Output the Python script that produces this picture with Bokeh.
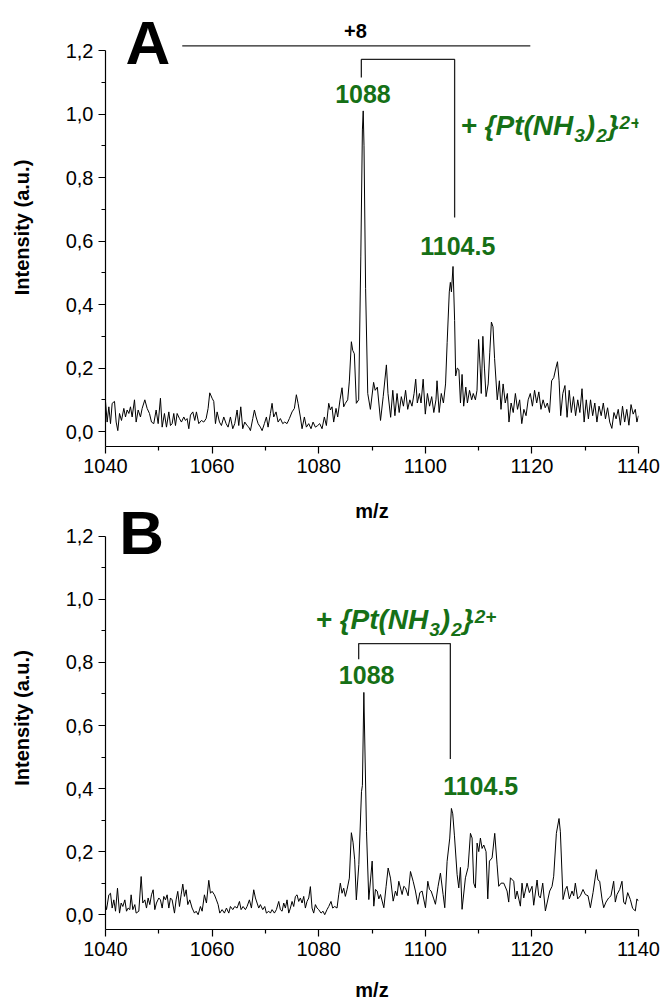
from bokeh.plotting import figure
from bokeh.layouts import column
from bokeh.models import Range1d, FixedTicker, CustomJSTickFormatter, Label
from bokeh.embed import file_html
from bokeh.resources import INLINE

# ---------------- data: panel A ----------------
mz_a = [1040.0, 1040.31, 1040.63, 1040.94, 1041.25, 1041.69, 1042.0, 1042.31, 1042.63, 1043.0,
        1043.44, 1043.75, 1044.06, 1044.38, 1044.69, 1045.0, 1045.44, 1045.75, 1046.13, 1046.56,
        1046.88, 1047.38, 1047.81, 1048.25, 1048.63, 1049.06, 1049.5, 1049.88, 1050.31, 1050.63,
        1051.06, 1051.44, 1051.88, 1052.19, 1052.5, 1052.81, 1053.13, 1053.44, 1053.88, 1054.25,
        1054.69, 1055.0, 1055.31, 1055.63, 1055.94, 1056.38, 1056.75, 1057.06, 1057.5, 1058.0,
        1058.44, 1058.88, 1059.25, 1059.56, 1060.0, 1060.31, 1060.63, 1060.94, 1061.38, 1061.75,
        1062.19, 1062.63, 1063.0, 1063.44, 1063.88, 1064.25, 1064.69, 1065.0, 1065.38, 1065.75,
        1066.13, 1066.56, 1066.88, 1067.19, 1067.63, 1067.94, 1068.25, 1068.63, 1069.06, 1069.38,
        1069.81, 1070.19, 1070.5, 1070.94, 1071.25, 1071.56, 1072.0, 1072.38, 1072.81, 1073.25,
        1073.63, 1074.06, 1074.5, 1075.0, 1075.44, 1075.81, 1076.13, 1076.56, 1076.88, 1077.31,
        1077.69, 1078.13, 1078.56, 1078.94, 1079.38, 1079.81, 1080.19, 1080.63, 1081.06, 1081.44,
        1081.88, 1082.19, 1082.5, 1082.81, 1083.25, 1083.56, 1084.0, 1084.38, 1084.69, 1085.0,
        1085.44, 1085.75, 1086.13, 1086.38, 1086.69, 1087.06,
        1087.5, 1087.9, 1088.2, 1088.35, 1088.5, 1088.8, 1089.2, 1089.7, 1090.3, 1090.6,
        1091.0, 1091.6, 1092.1, 1092.7, 1093.0, 1093.5, 1093.9, 1094.3, 1094.7, 1095.1,
        1095.5, 1095.9, 1096.3, 1096.7, 1097.1, 1097.5, 1097.9, 1098.2, 1098.5, 1098.9,
        1099.2, 1099.6, 1100.0, 1100.4, 1100.8, 1101.2, 1101.6, 1102.0, 1102.2, 1102.6,
        1103.0, 1103.4, 1103.8, 1104.1, 1104.5, 1104.7, 1104.9, 1105.2, 1105.5, 1105.7,
        1106.0, 1106.3, 1106.6, 1106.9, 1107.2, 1107.6, 1107.9, 1108.3, 1108.7, 1109.0,
        1109.4, 1109.7, 1110.0, 1110.3, 1110.5, 1110.8, 1111.1, 1111.4, 1111.8, 1112.1,
        1112.4, 1112.7, 1113.0, 1113.5, 1113.9, 1114.2, 1114.6, 1115.0, 1115.4, 1115.7,
        1116.1, 1116.5, 1116.9, 1117.3, 1117.7, 1118.1, 1118.5, 1118.9, 1119.3, 1119.7,
        1120.1, 1120.5, 1120.9, 1121.3, 1121.7, 1122.1, 1122.5, 1122.9, 1123.3, 1123.7,
        1124.1, 1124.5, 1124.8, 1125.1, 1125.4, 1125.8, 1126.2, 1126.6, 1127.0, 1127.4,
        1127.8, 1128.2, 1128.6, 1129.0, 1129.4, 1129.8, 1130.2, 1130.6, 1131.0, 1131.4,
        1131.8, 1132.2, 1132.6, 1133.0, 1133.4, 1133.8, 1134.2, 1134.6, 1135.0, 1135.4,
        1135.8, 1136.2, 1136.6, 1137.0, 1137.4, 1137.8, 1138.2, 1138.6, 1139.0, 1139.4,
        1139.7, 1140.0]
int_a = [0.095, 0.030, 0.078, 0.025, 0.089, 0.095, 0.030, 0.003, 0.057, 0.035,
         0.073, 0.046, 0.068, 0.057, 0.078, 0.046, 0.100, 0.030, 0.068, 0.046,
         0.073, 0.100, 0.073, 0.057, 0.030, 0.025, 0.068, 0.025, 0.105, 0.014,
         0.057, 0.014, 0.062, 0.019, 0.025, 0.057, 0.019, 0.057, 0.041, 0.030,
         0.046, 0.035, 0.041, 0.009, 0.052, 0.062, 0.035, 0.062, 0.025, 0.035,
         0.030, 0.041, 0.073, 0.122, 0.105, 0.095, 0.025, 0.062, 0.030, 0.019,
         0.046, 0.025, 0.014, 0.046, 0.009, 0.025, 0.068, 0.019, 0.078, 0.009,
         0.030, 0.019, 0.014, 0.003, 0.041, 0.068, 0.046, 0.025, 0.014, 0.003,
         0.025, 0.046, 0.014, 0.057, 0.089, 0.046, 0.062, 0.030, 0.041, 0.025,
         0.030, 0.025, 0.041, 0.062, 0.073, 0.116, 0.089, 0.046, 0.009, 0.046,
         0.014, 0.025, 0.009, 0.030, 0.014, 0.019, 0.025, 0.009, 0.046, 0.019,
         0.089, 0.068, 0.078, 0.030, 0.073, 0.046, 0.100, 0.138, 0.078, 0.089,
         0.100, 0.159, 0.283, 0.256, 0.245, 0.089,
         0.10, 0.55, 0.95, 1.01, 0.90, 0.45, 0.12, 0.07, 0.155, 0.13,
         0.14, 0.035, 0.11, 0.21, 0.12, 0.045, 0.13, 0.05, 0.12, 0.06,
         0.11, 0.08, 0.13, 0.07, 0.10, 0.08, 0.12, 0.165, 0.09, 0.12,
         0.09, 0.165, 0.055, 0.12, 0.08, 0.11, 0.06, 0.10, 0.16, 0.06,
         0.12, 0.09, 0.15, 0.28, 0.44, 0.47, 0.44, 0.52, 0.35, 0.175,
         0.20, 0.195, 0.09, 0.18, 0.08, 0.14, 0.09, 0.13, 0.10, 0.12,
         0.10, 0.13, 0.29, 0.20, 0.12, 0.30, 0.20, 0.11, 0.15, 0.25,
         0.345, 0.33, 0.23, 0.10, 0.16, 0.07, 0.15, 0.09, 0.12, 0.03,
         0.09, 0.06, 0.12, 0.07, 0.10, 0.025, 0.07, 0.05, 0.10, 0.12,
         0.08, 0.13, 0.09, 0.125, 0.07, 0.10, 0.075, 0.09, 0.06, 0.16,
         0.17, 0.20, 0.22, 0.16, 0.05, 0.12, 0.145, 0.045, 0.13, 0.06,
         0.11, 0.05, 0.10, 0.06, 0.135, 0.03, 0.10, 0.04, 0.10, 0.05,
         0.09, 0.03, 0.08, 0.05, 0.09, 0.04, 0.075, 0.03, 0.01, 0.06,
         0.04, 0.07, 0.02, 0.08, 0.03, 0.07, 0.02, 0.085, 0.055, 0.07,
         0.03, 0.05]

# ---------------- data: panel B ----------------
mz_b = [1040.0, 1040.19, 1040.63, 1040.94, 1041.25, 1041.56, 1041.88, 1042.25, 1042.63, 1042.94,
        1043.25, 1043.63, 1043.94, 1044.25, 1044.56, 1044.81, 1045.13, 1045.5, 1045.75, 1046.25,
        1046.69, 1047.0, 1047.38, 1047.69, 1048.0, 1048.31, 1048.63, 1048.94, 1049.25, 1049.56,
        1050.0, 1050.31, 1050.63, 1050.94, 1051.25, 1051.56, 1051.88, 1052.19, 1052.5, 1052.94,
        1053.25, 1053.56, 1053.88, 1054.19, 1054.5, 1054.81, 1055.13, 1055.44, 1055.81, 1056.25,
        1056.69, 1057.0, 1057.38, 1057.81, 1058.13, 1058.56, 1058.94, 1059.38, 1059.69, 1060.0,
        1060.44, 1060.81, 1061.13, 1061.44, 1061.88, 1062.31, 1062.69, 1063.13, 1063.44, 1063.88,
        1064.25, 1064.69, 1065.13, 1065.44, 1065.81, 1066.25, 1066.56, 1067.0, 1067.38, 1067.81,
        1068.13, 1068.44, 1068.75, 1069.06, 1069.5, 1069.88, 1070.19, 1070.63, 1070.94, 1071.25,
        1071.69, 1072.06, 1072.5, 1072.81, 1073.13, 1073.44, 1073.75, 1074.06, 1074.38, 1074.69,
        1075.0, 1075.31, 1075.63, 1075.94, 1076.25, 1076.56, 1076.88, 1077.19, 1077.5, 1077.81,
        1078.13, 1078.44, 1078.75, 1079.06, 1079.38, 1079.69, 1080.0, 1080.44, 1080.81, 1081.13,
        1081.56, 1081.88, 1082.31, 1082.63, 1083.0, 1083.44, 1083.75, 1084.06, 1084.38, 1084.69,
        1085.0, 1085.31, 1085.75, 1086.13, 1086.44, 1086.75, 1087.06,
        1087.53, 1088.03, 1088.2, 1088.47, 1088.97, 1089.4, 1090.03, 1090.34, 1090.65, 1090.97,
        1091.28, 1091.59, 1092.22, 1092.65, 1093.03, 1093.47, 1093.97, 1094.4, 1094.7, 1095.03,
        1095.65, 1095.97, 1096.28, 1096.78, 1097.22, 1097.72, 1098.15, 1098.59, 1098.97, 1099.4,
        1100.03, 1100.47, 1100.78, 1101.09, 1101.59, 1101.9, 1102.4, 1102.84, 1103.34, 1103.65,
        1104.09, 1104.59, 1104.9, 1105.15, 1105.47, 1105.97, 1106.28, 1106.59, 1106.9, 1107.53,
        1108.03, 1108.47, 1108.78, 1109.09, 1109.4, 1109.72, 1110.03, 1110.34, 1110.65, 1110.97,
        1111.4, 1111.72, 1112.03, 1112.53, 1113.03, 1113.47, 1113.78, 1114.22, 1114.72, 1115.34,
        1115.65, 1115.97, 1116.59, 1116.9, 1117.22, 1117.84, 1118.15, 1118.47, 1119.09, 1119.53,
        1120.03, 1120.34, 1120.97, 1121.28, 1121.59, 1122.03, 1122.53, 1123.34, 1123.78, 1124.09,
        1124.59, 1125.09, 1125.34, 1125.84, 1126.28, 1126.59, 1127.03, 1127.53, 1127.84, 1128.15,
        1128.59, 1129.09, 1129.59, 1130.03, 1130.53, 1130.97, 1131.47, 1132.09, 1132.4, 1132.72,
        1133.15, 1133.47, 1133.9, 1134.4, 1134.84, 1135.34, 1135.65, 1135.97, 1136.47, 1136.9,
        1137.22, 1137.53, 1137.97, 1138.47, 1138.9, 1139.4, 1139.7, 1140.0]
int_b = [0.030, 0.016, 0.063, 0.068, 0.021, 0.047, 0.011, 0.084, 0.005, 0.037,
         0.026, 0.047, 0.011, 0.021, 0.016, 0.063, 0.016, 0.032, 0.005, 0.011,
         0.121, 0.037, 0.047, 0.021, 0.053, 0.032, 0.063, 0.079, 0.016, 0.037,
         0.053, 0.047, 0.021, 0.058, 0.047, 0.063, 0.021, 0.053, 0.047, 0.005,
         0.047, 0.074, 0.026, 0.063, 0.097, 0.058, 0.079, 0.032, 0.047, 0.021,
         0.005, 0.011, 0.000, 0.026, 0.011, 0.063, 0.037, 0.109, 0.068, 0.074,
         0.063, 0.047, 0.032, 0.005, 0.016, 0.005, 0.021, 0.005, 0.026, 0.016,
         0.026, 0.021, 0.042, 0.016, 0.026, 0.016, 0.026, 0.047, 0.021, 0.079,
         0.053, 0.037, 0.021, 0.032, 0.016, 0.026, 0.005, 0.011, 0.005, 0.016,
         0.005, 0.016, 0.042, 0.016, 0.011, 0.037, 0.021, 0.047, 0.005, 0.021,
         0.042, 0.026, 0.058, 0.063, 0.042, 0.053, 0.037, 0.058, 0.021, 0.042,
         0.053, 0.089, 0.021, 0.005, 0.032, 0.021, 0.016, 0.005, 0.011, 0.000,
         0.016, 0.026, 0.042, 0.021, 0.026, 0.021, 0.063, 0.100, 0.068, 0.084,
         0.058, 0.079, 0.116, 0.260, 0.230, 0.174, 0.047,
         0.159, 0.390, 0.410, 0.705, 0.263, 0.048, 0.170, 0.027, 0.080, 0.075,
         0.050, 0.064, 0.022, 0.090, 0.148, 0.116, 0.043, 0.075, 0.060, 0.106,
         0.064, 0.090, 0.085, 0.060, 0.137, 0.106, 0.075, 0.033, 0.070, 0.075,
         0.022, 0.106, 0.080, 0.075, 0.050, 0.033, 0.090, 0.132, 0.064, 0.022,
         0.169, 0.243, 0.337, 0.320, 0.250, 0.127, 0.085, 0.150, 0.017, 0.117,
         0.150, 0.258, 0.243, 0.100, 0.085, 0.227, 0.200, 0.243, 0.210, 0.221,
         0.200, 0.050, 0.170, 0.180, 0.258, 0.158, 0.090, 0.100, 0.100, 0.075,
         0.040, 0.117, 0.106, 0.050, 0.075, 0.027, 0.100, 0.053, 0.100, 0.070,
         0.090, 0.030, 0.110, 0.060, 0.053, 0.100, 0.012, 0.075, 0.090, 0.122,
         0.258, 0.305, 0.263, 0.048, 0.080, 0.090, 0.050, 0.075, 0.060, 0.100,
         0.050, 0.060, 0.080, 0.064, 0.060, 0.022, 0.070, 0.143, 0.110, 0.106,
         0.050, 0.022, 0.040, 0.053, 0.060, 0.106, 0.040, 0.064, 0.080, 0.106,
         0.040, 0.033, 0.070, 0.048, 0.020, 0.012, 0.050, 0.043]

# ---------------- axes ----------------
x_ticks = [1040, 1060, 1080, 1100, 1120, 1140]
x_minor_ticks = [1050, 1070, 1090, 1110, 1130]
y_ticks = [0.0, 0.2, 0.4, 0.6, 0.8, 1.0, 1.2]
y_tick_labels = ["0,0", "0,2", "0,4", "0,6", "0,8", "1,0", "1,2"]
y_minor_ticks = [0.1, 0.3, 0.5, 0.7, 0.9, 1.1]
x_label = "m/z"
y_label = "Intensity (a.u.)"

# ---------------- annotations (data coordinates) ----------------
peak_labels = ["1088", "1104.5"]
peak_label_x_a = [1088.3, 1106.1]
peak_label_y_a = [1.062, 0.585]
peak_label_x_b = [1089.0, 1110.4]
peak_label_y_b = [0.76, 0.408]
bracket_x_a = [1088.0, 1088.0, 1105.5, 1105.5]
bracket_y_a = [1.115, 1.172, 1.172, 0.674]
bracket_x_b = [1087.5, 1087.5, 1104.7, 1104.7]
bracket_y_b = [0.81, 0.86, 0.86, 0.494]
adduct_pos_a = (1106.6, 0.965)
adduct_pos_b = (1079.4, 0.936)
charge_text = "+8"
charge_pos = (1086.9, 1.262)
charge_line_x = [1054.4, 1119.7]
charge_line_y = [1.215, 1.215]
panel_names = ["A", "B"]
panel_pos_a = (1043.75, 1.225)
panel_pos_b = (1042.6, 1.212)

GREEN = "#167016"
FONT = "Liberation Sans"
Y_BOTTOM = -0.047
PX_PER_UNIT = 317.5


def make_panel(mz, inten, y_bottom, y_top, height, border_top, border_bottom, xlabel_standoff):
    p = figure(width=662, height=height, output_backend="svg", toolbar_location=None,
               x_range=Range1d(1040, 1140), y_range=Range1d(y_bottom, y_top),
               min_border_left=105, min_border_right=24, min_border_top=border_top,
               min_border_bottom=border_bottom)
    p.background_fill_color = None
    p.border_fill_color = None
    p.outline_line_color = None
    p.grid.visible = False
    p.line(mz, inten, line_color="black", line_width=1.0)

    xa = p.xaxis[0]
    xa.ticker = FixedTicker(ticks=x_ticks, minor_ticks=x_minor_ticks)
    ya = p.yaxis[0]
    ya.ticker = FixedTicker(ticks=y_ticks, minor_ticks=y_minor_ticks)
    ya.bounds = (y_bottom, 1.2)
    ya.formatter = CustomJSTickFormatter(
        args=dict(yt=y_ticks, yl=y_tick_labels),
        code="""
        for (let i = 0; i < yt.length; i++) {
            if (Math.abs(yt[i] - tick) < 1e-6) { return yl[i]; }
        }
        return '';
        """)
    for ax in (xa, ya):
        ax.axis_line_color = "black"
        ax.axis_line_width = 1.2
        ax.major_tick_line_color = "black"
        ax.minor_tick_line_color = "black"
        ax.major_tick_line_width = 1.2
        ax.minor_tick_line_width = 1.2
        ax.major_tick_out = 7
        ax.major_tick_in = 0
        ax.minor_tick_out = 4
        ax.minor_tick_in = 0
        ax.major_label_text_font = FONT
        ax.major_label_text_font_size = "20px"
        ax.major_label_text_color = "black"
        ax.major_label_standoff = 5
        ax.axis_label_text_font = FONT
        ax.axis_label_text_font_size = "20px"
        ax.axis_label_text_font_style = "bold"
        ax.axis_label_text_color = "black"
    xa.axis_label = x_label
    xa.axis_label_standoff = xlabel_standoff
    ya.axis_label = y_label
    ya.axis_label_standoff = 30
    return p


def add_adduct(p, pos):
    # + {Pt(NH3)2}2+ built from pieces with sub/superscripts (vertical centres)
    widths = {"+": 0.584, " ": 0.278, "{": 0.389, "P": 0.667, "t": 0.333, "(": 0.333,
              "N": 0.722, "H": 0.722, "3": 0.556, ")": 0.333, "2": 0.556, "}": 0.389}
    big, small = 28, 19
    pieces = [("+ {Pt(NH", big, 0), ("3", small, -10), (")", big, 0),
              ("2", small, -10), ("}", big, 0), ("2+", small, 3)]
    off = 0.0
    for txt, size, dy in pieces:
        p.add_layout(Label(x=pos[0], y=pos[1], x_offset=off, y_offset=dy, text=txt,
                           text_font=FONT, text_font_size=f"{size}px",
                           text_font_style="bold italic", text_color=GREEN,
                           text_align="left", text_baseline="middle"))
        off += sum(widths[c] for c in txt) * size + 1


def add_common(p, name, name_pos, bx, by, lx, ly, adduct_pos):
    p.add_layout(Label(x=name_pos[0], y=name_pos[1], text=name, text_font=FONT,
                       text_font_size="62px", text_font_style="bold", text_color="black",
                       text_align="left", text_baseline="middle"))
    p.line(bx, by, line_color="#222222", line_width=1.3)
    for t, x, y in zip(peak_labels, lx, ly):
        p.add_layout(Label(x=x, y=y, text=t, text_font=FONT, text_font_size="25px",
                           text_font_style="bold", text_color=GREEN,
                           text_align="center", text_baseline="middle"))
    add_adduct(p, adduct_pos)


# panel A: frame from page y 8 (top) to 446 (x axis)
top_a = Y_BOTTOM + 438 / PX_PER_UNIT
pa = make_panel(mz_a, int_a, Y_BOTTOM, top_a, 524, 8, 78, 24)
add_common(pa, panel_names[0], panel_pos_a, bracket_x_a, bracket_y_a,
           peak_label_x_a, peak_label_y_a, adduct_pos_a)
pa.line(charge_line_x, charge_line_y, line_color="#222222", line_width=1.3)
pa.add_layout(Label(x=charge_pos[0], y=charge_pos[1], text=charge_text, text_font=FONT,
                    text_font_size="20px", text_font_style="bold", text_color="black",
                    text_align="center", text_baseline="middle"))

# panel B: canvas starts at page y 494 (transparent overlap), frame 506..932
top_b = Y_BOTTOM + 426 / PX_PER_UNIT
pb = make_panel(mz_b, int_b, Y_BOTTOM, top_b, 509, 12, 71, 20)
pb.styles = {"margin-top": "-30px"}
add_common(pb, panel_names[1], panel_pos_b, bracket_x_b, bracket_y_b,
           peak_label_x_b, peak_label_y_b, adduct_pos_b)

layout = column(pa, pb, spacing=0)
open("out.html", "w").write(file_html(layout, INLINE))
